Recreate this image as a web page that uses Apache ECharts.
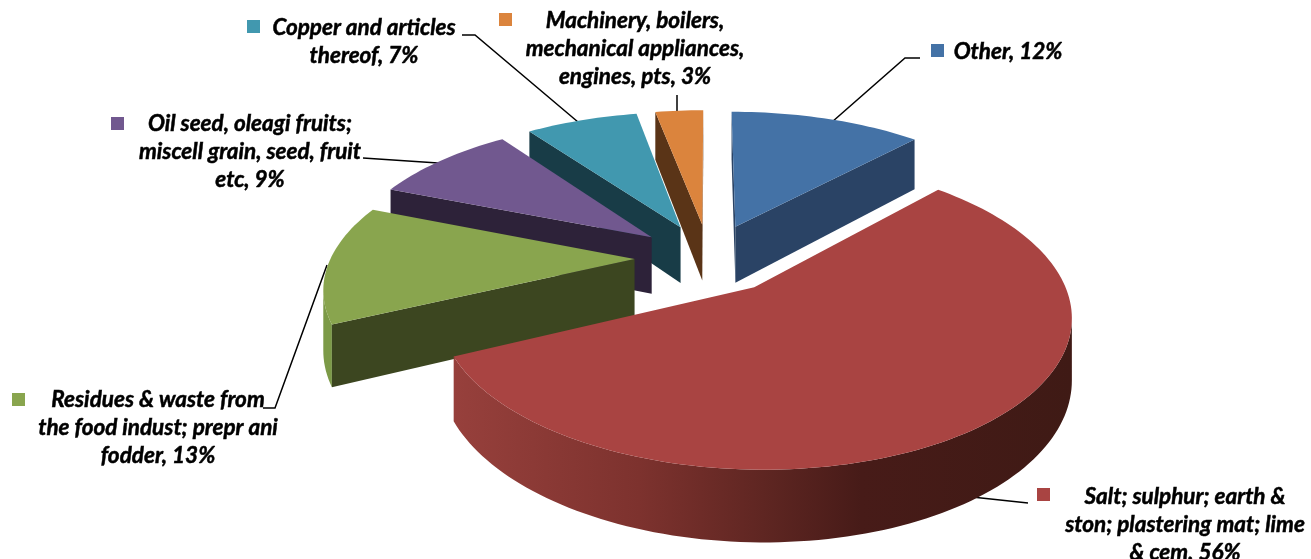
<!DOCTYPE html>
<html>
<head>
<meta charset="utf-8">
<style>
  html, body { margin: 0; padding: 0; background: #fff; }
  #chart { width: 1311px; height: 559px; }
</style>
<script src="https://cdn.jsdelivr.net/npm/echarts@6/dist/echarts.min.js"></script>
</head>
<body>
<div id="chart"></div>
<script>
// clockwise from 12 o'clock
const categories = [
  'Other',
  'Salt; sulphur; earth &\nston; plastering mat; lime\n& cem',
  'Residues & waste from\nthe food indust; prepr ani\nfodder',
  'Oil seed, oleagi fruits;\nmiscell grain, seed, fruit\netc',
  'Copper and articles\nthereof',
  'Machinery, boilers,\nmechanical appliances,\nengines, pts'
];
const shares = [12, 56, 13, 9, 7, 3];
const topColors = ['#4472a6', '#a94442', '#89a54e', '#71588f', '#4198af', '#db843d'];
const wallColors = ['#2a4365', '#6e2c28', '#3c4620', '#2d2239', '#183c47', '#5a3417'];
// big slice sits a little smaller than the rest in the original
const sliceScale = [1, 0.97, 0.98, 1, 1, 1];

// "3d" camera of the pie
const cx = 709, cy = 258, radius = 310, tilt = 145, thick = 58, persp = 0.174, explode = 0.24;

function project(u, v, down) {
  const s = 1 / (1 - persp * v);
  return [cx + u * radius * s, cy + (v * tilt + (down ? thick : 0)) * s];
}

const total = shares.reduce((a, b) => a + b, 0);

function sliceAngles(idx) {
  let before = 0;
  for (let i = 0; i < idx; i++) before += shares[i];
  return [before / total * Math.PI * 2, (before + shares[idx]) / total * Math.PI * 2];
}

function renderSlice(params, api) {
  const idx = params.dataIndex;
  const angles = sliceAngles(idx);
  const a0 = angles[0], a1 = angles[1], mid = (a0 + a1) / 2;
  const ou = Math.sin(mid) * explode, ov = -Math.cos(mid) * explode;
  const k = sliceScale[idx];
  const base = Math.round((ov + 1) * 100) * 10;

  const n = Math.max(4, Math.ceil((a1 - a0) / (Math.PI / 120)));
  const top = [], bottom = [];
  for (let i = 0; i <= n; i++) {
    const a = a0 + (a1 - a0) * i / n;
    top.push(project(ou + k * Math.sin(a), ov - k * Math.cos(a), false));
    bottom.push(project(ou + k * Math.sin(a), ov - k * Math.cos(a), true));
  }
  const tipT = project(ou, ov, false), tipB = project(ou, ov, true);
  const children = [];

  // outer wall, only the part turned to the viewer
  const run = [];
  for (let i = 0; i < n; i++) {
    if (top[i + 1][0] < top[i][0]) run.push(i);
  }
  if (run.length) {
    const pts = [];
    run.forEach(function (i) { pts.push(top[i]); });
    pts.push(top[run[run.length - 1] + 1]);
    pts.push(bottom[run[run.length - 1] + 1]);
    run.slice().reverse().forEach(function (i) { pts.push(bottom[i]); });
    const fill = idx === 1
      ? new echarts.graphic.LinearGradient(0, 0, 1, 0, [
          { offset: 0, color: '#97403c' },
          { offset: 0.3, color: '#7d322e' },
          { offset: 0.5, color: '#5f2622' },
          { offset: 0.66, color: '#471b18' },
          { offset: 1, color: '#3f1a15' }
        ])
      : idx === 2 ? '#7c9a47' : wallColors[idx];
    children.push({ type: 'polygon', shape: { points: pts }, z2: base + 1, style: { fill: fill } });
  }

  // the two cut faces
  [[tipT, top[0], bottom[0], tipB], [top[n], tipT, tipB, bottom[n]]].forEach(function (q) {
    if (q[1][0] < q[0][0]) {
      children.push({ type: 'polygon', shape: { points: q }, z2: base + 2, style: { fill: wallColors[idx] } });
    }
  });

  children.push({
    type: 'polygon',
    shape: { points: [tipT].concat(top) },
    z2: base + 3,
    style: { fill: topColors[idx] }
  });
  return { type: 'group', children: children };
}

// label blocks: centre of text, legend key, leader line
const labelSpots = [
  { x: 1008, y: 52, key: [931, 44], line: [[832, 122], [905, 58], [920, 58]] },
  { x: 1185, y: 525, key: [1037, 488], line: [[972, 497], [1028, 503]] },
  { x: 158, y: 428, key: [12, 393], line: [[327, 265], [275, 408], [263, 408]] },
  { x: 250, y: 152, key: [111, 117], line: [[438, 163], [363, 158]] },
  { x: 364, y: 42, key: [247, 20], line: [[578, 122], [475, 35], [462, 35]] },
  { x: 635, y: 49, key: [499, 13], line: [[677, 112], [677, 95]] }
];

const graphics = [];
labelSpots.forEach(function (spot, i) {
  graphics.push({
    type: 'text', x: spot.x, y: spot.y, z: 10,
    style: {
      text: categories[i] + ', ' + shares[i] + '%',
      font: 'italic bold 22.5px Lato, sans-serif',
      lineHeight: 28, fill: '#000',
      stroke: '#000', lineWidth: 0.5,
      textAlign: 'center', textVerticalAlign: 'middle'
    }
  });
  graphics.push({
    type: 'rect', z: 10,
    shape: { x: spot.key[0], y: spot.key[1], width: 13, height: 13 },
    style: { fill: topColors[i] }
  });
  graphics.push({
    type: 'polyline', z: 1,
    shape: { points: spot.line },
    style: { stroke: '#000', lineWidth: 1.5, fill: 'none' }
  });
});

const chart = echarts.init(document.getElementById('chart'));
chart.setOption({
  animation: false,
  backgroundColor: '#fff',
  series: [{
    type: 'custom',
    coordinateSystem: 'none',
    silent: true,
    z: 5,
    data: shares,
    renderItem: renderSlice
  }],
  graphic: { elements: graphics }
});
</script>
</body>
</html>
